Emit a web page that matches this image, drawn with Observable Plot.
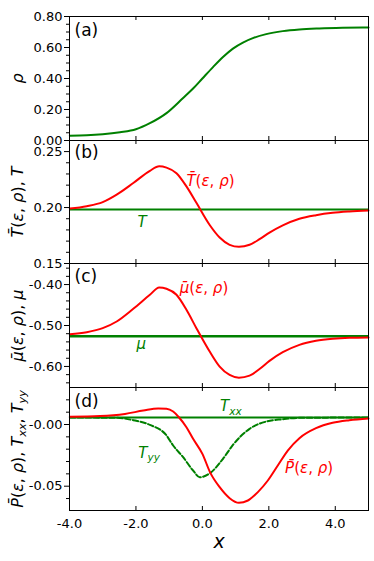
<!DOCTYPE html>
<html><head><meta charset="utf-8">
<script src="https://cdn.jsdelivr.net/npm/d3@7"></script>
<script src="https://cdn.jsdelivr.net/npm/@observablehq/plot@0.6"></script>
<style>
body{margin:0;background:#fff;}
#chart{width:374px;height:561px;}
#chart svg{display:block;overflow:visible;background:transparent;}
</style></head><body><div id="chart"></div>
<script>
const RED = "#ff0000", GREEN = "#008000";

// x ticks (shared)
const xTicks = [-4, -2, 0, 2, 4];
const xTickLabels = ["-4.0", "-2.0", "0.0", "2.0", "4.0"];
const xTitle = "x";

// (a) density
const rhoX = [-3.99, -3.48, -3.0, -2.48, -2.0, -1.58, -1.08, -0.58, -0.28, 0, 0.32, 0.62, 0.92, 1.22, 1.52, 1.92, 2.42, 2.92, 3.52, 4.22, 5];
const rhoY = [0.0314, 0.0336, 0.0401, 0.0531, 0.0726, 0.1117, 0.1767, 0.2743, 0.3350, 0.4000, 0.4737, 0.5387, 0.5930, 0.6320, 0.6602, 0.6862, 0.7057, 0.7165, 0.7230, 0.7274, 0.7295];
const aTicks = [0, 0.2, 0.4, 0.6, 0.8];
const aTickLabels = ["0.00", "0.20", "0.40", "0.60", "0.80"];
const aMinor = [0.05, 0.1, 0.15, 0.25, 0.3, 0.35, 0.45, 0.5, 0.55, 0.65, 0.7, 0.75];

// (b) temperature
const tX = [-3.99, -3.48, -3.0, -2.58, -2.08, -1.58, -1.3, -1.08, -0.78, -0.48, -0.18, 0.22, 0.52, 0.82, 1.1, 1.42, 1.72, 2.02, 2.42, 2.92, 3.42, 3.92, 4.42, 5];
const tBar = [0.1991, 0.2012, 0.2048, 0.2115, 0.2219, 0.2328, 0.2369, 0.2357, 0.2307, 0.2189, 0.2042, 0.1844, 0.1732, 0.1667, 0.1649, 0.1667, 0.1717, 0.1776, 0.1841, 0.1900, 0.1932, 0.1953, 0.1965, 0.1974];
const tConst = 0.1982;
const bTicks = [0.15, 0.20, 0.25];
const bTickLabels = ["0.15", "0.20", "0.25"];
const bMinor = [0.16, 0.17, 0.18, 0.19, 0.21, 0.22, 0.23, 0.24];

// (c) chemical potential
const muX = [-3.99, -3.48, -3.0, -2.58, -2.08, -1.58, -1.3, -1.08, -0.78, -0.48, -0.18, 0.22, 0.52, 0.82, 1.1, 1.42, 1.72, 2.02, 2.42, 2.92, 3.42, 3.92, 4.42, 5];
const muBar = [-0.5212, -0.5163, -0.5065, -0.4902, -0.4592, -0.4249, -0.4070, -0.4102, -0.4249, -0.4616, -0.5065, -0.5636, -0.6004, -0.6208, -0.6273, -0.6224, -0.6061, -0.5865, -0.5653, -0.5473, -0.5375, -0.5326, -0.5302, -0.5294];
const muConst = -0.5261;
const cTicks = [-0.6, -0.5, -0.4];
const cTickLabels = ["-0.60", "-0.50", "-0.40"];
const cMinor = [-0.64, -0.62, -0.58, -0.56, -0.54, -0.52, -0.48, -0.46, -0.44, -0.42, -0.38, -0.36];

// (d) pressure / stresses
const pX = [-3.99, -3.08, -2.33, -1.78, -1.33, -1.08, -0.88, -0.7, -0.48, -0.28, 0, 0.24, 0.52, 0.82, 1.1, 1.37, 1.67, 1.97, 2.27, 2.57, 2.92, 3.42, 3.92, 4.42, 5];
const pBar = [0.0062, 0.0068, 0.0086, 0.0113, 0.0130, 0.0127, 0.0105, 0.0057, -0.0022, -0.0116, -0.0238, -0.0392, -0.0508, -0.0597, -0.0635, -0.0616, -0.0548, -0.0454, -0.0332, -0.0211, -0.0111, -0.0030, 0.0014, 0.0035, 0.0049];
const tyyX = [-3.99, -2.58, -2.08, -1.58, -1.08, -0.88, -0.58, -0.28, -0.08, 0.24, 0.62, 0.92, 1.42, 1.92, 2.42, 2.92, 5];
const tyy = [0.0057, 0.0054, 0.0035, -0.0003, -0.0089, -0.0170, -0.0265, -0.0373, -0.0427, -0.0392, -0.0278, -0.0165, -0.0035, 0.0024, 0.0043, 0.0054, 0.0057];
const txxConst = 0.0057;
const dTicks = [-0.05, 0];
const dTickLabels = ["-0.05", "-0.00"];
const dMinor = [-0.06, -0.04, -0.03, -0.02, -0.01, 0.01, 0.02];

// axis titles, panel tags, curve labels
const yTitles = ["$ρ", "$T̄(ε, ρ), T", "$μ̄(ε, ρ), μ", "$P̄(ε, ρ), T_{xx}, T_{yy}"];
const tags = ["(a)", "(b)", "(c)", "(d)"];
const bLabels = [{t: "$T̄(ε, ρ)", x: -0.48, y: 0.2235, c: RED}, {t: "$T", x: -1.95, y: 0.1865, c: GREEN}];
const cLabels = [{t: "$μ̄(ε, ρ)", x: -0.68, y: -0.4082, c: RED}, {t: "$μ", x: -1.98, y: -0.5465, c: GREEN}];
const dLabels = [{t: "$T_{xx}", x: 0.53, y: 0.0146, c: GREEN}, {t: "$T_{yy}", x: -1.93, y: -0.0234, c: GREEN}, {t: "$P̄(ε, ρ)", x: 2.49, y: -0.0358, c: RED}];

const zip = (xs, ys) => xs.map((x, i) => ({x, y: ys[i]}));

function panel({H, mt, mb, domain, ticks, tickLabels, minor, curves, labels, tag, tagDy, ytitle, ytitleSize, last}) {
  const plotH = H - mt - mb;
  const lm = new Map(ticks.map((d, i) => [d, tickLabels[i]]));
  const xm = new Map(xTicks.map((d, i) => [d, xTickLabels[i]]));
  const marks = [
    ...curves,
    Plot.axisY(ticks, {tickSize: 5, tickPadding: 2, tickFormat: d => lm.get(d), fontSize: 13, label: null, stroke: "black", fill: "black"}),
    Plot.axisY(minor, {tickSize: 3, fill: "none", stroke: "black", label: null}),
    Plot.tickX(xTicks, {x: d => d, insetTop: plotH - 4, stroke: "black"}),
    Plot.tickX(xTicks, {x: d => d, insetBottom: plotH - 4, stroke: "black"}),
    Plot.text([tag], {text: d => d, frameAnchor: "top-left", dx: 5, dy: tagDy, textAnchor: "start", lineAnchor: "middle", fontSize: 17, fill: "black"}),
    Plot.text([ytitle], {text: d => d, frameAnchor: "left", dx: -52, rotate: -90, textAnchor: "middle", lineAnchor: "middle", fontSize: ytitleSize || 16, fill: "black"}),
    Plot.text(labels || [], {x: "x", y: "y", text: "t", fill: "c", textAnchor: "start", lineAnchor: "middle", fontSize: 15}),
    Plot.frame({stroke: "black", strokeWidth: 1})
  ];
  if (last) {
    marks.push(Plot.axisX(xTicks, {tickSize: 0, tickPadding: 8, tickFormat: d => xm.get(d), fontSize: 13, label: null, fill: "black"}));
    marks.push(Plot.text([xTitle], {text: d => d, frameAnchor: "bottom", dy: 31, textAnchor: "middle", lineAnchor: "middle", fontSize: 19, fontStyle: "italic", fill: "black"}));
  }
  return Plot.plot({
    width: 374, height: H,
    marginLeft: 69, marginRight: 6, marginTop: mt, marginBottom: mb,
    x: {domain: [-4, 5], ...(last ? {} : {axis: null})},
    y: {domain},
    color: {type: "identity"},
    style: {fontFamily: "'DejaVu Sans', sans-serif", fontSize: "13px", overflow: "visible", background: "transparent", color: "black"},
    marks
  });
}

const lineOpts = {x: "x", y: "y", strokeWidth: 2, curve: "monotone-x"};

const panels = [
  panel({H: 140, mt: 16, mb: 0, domain: [0, 0.8], ticks: aTicks, tickLabels: aTickLabels, minor: aMinor,
    curves: [Plot.line(zip(rhoX, rhoY), {...lineOpts, stroke: GREEN})], labels: [], tag: tags[0], tagDy: 14, ytitle: yTitles[0]}),
  panel({H: 123, mt: 0, mb: 0, domain: [0.15, 0.2599], ticks: bTicks, tickLabels: bTickLabels, minor: bMinor,
    curves: [Plot.ruleY([tConst], {stroke: GREEN, strokeWidth: 2}), Plot.line(zip(tX, tBar), {...lineOpts, stroke: RED})],
    labels: bLabels, tag: tags[1], tagDy: 12, ytitle: yTitles[1]}),
  panel({H: 124, mt: 0, mb: 0, domain: [-0.6514, -0.3486], ticks: cTicks, tickLabels: cTickLabels, minor: cMinor,
    curves: [Plot.ruleY([muConst], {stroke: GREEN, strokeWidth: 2.5}), Plot.line(zip(muX, muBar), {...lineOpts, stroke: RED})],
    labels: cLabels, tag: tags[2], tagDy: 13, ytitle: yTitles[2]}),
  panel({H: 174, mt: 0, mb: 51, domain: [-0.0697, 0.0300], ticks: dTicks, tickLabels: dTickLabels, minor: dMinor,
    curves: [Plot.ruleY([txxConst], {stroke: GREEN, strokeWidth: 2}),
             Plot.line(zip(tyyX, tyy), {...lineOpts, stroke: GREEN, strokeDasharray: "5.5,2.4"}),
             Plot.line(zip(pX, pBar), {...lineOpts, stroke: RED})],
    labels: dLabels, tag: tags[3], tagDy: 14.5, ytitle: yTitles[3], ytitleSize: 16, last: true})
];

const root = document.getElementById("chart");
panels.forEach(p => root.appendChild(p));

function richify(scope) {
  const NS = "http://www.w3.org/2000/svg";
  const isL = c => /[\p{L}\p{M}]/u.test(c);
  scope.querySelectorAll("text").forEach(t => {
    const s = t.textContent;
    if (!s.startsWith("$")) return;
    const fs = parseFloat(getComputedStyle(t).fontSize) || 15;
    const str = s.slice(1);
    while (t.firstChild) t.removeChild(t.firstChild);
    let pending = 0;
    const add = (txt, italic, sub) => {
      const sp = document.createElementNS(NS, "tspan");
      sp.textContent = txt;
      sp.setAttribute("font-style", italic ? "italic" : "normal");
      if (sub) {
        sp.setAttribute("font-size", (fs * 0.7).toFixed(2));
        sp.setAttribute("dy", (0.22 * fs + pending).toFixed(2));
        pending = -0.22 * fs;
      } else if (pending) {
        sp.setAttribute("dy", pending.toFixed(2));
        pending = 0;
      }
      t.appendChild(sp);
    };
    let i = 0;
    while (i < str.length) {
      if (str.startsWith("_{", i)) {
        const j = str.indexOf("}", i);
        add(str.slice(i + 2, j), true, true);
        i = j + 1;
        continue;
      }
      const k = isL(str[i]);
      let j = i;
      while (j < str.length && !str.startsWith("_{", j) && isL(str[j]) === k) j++;
      add(str.slice(i, j), k, false);
      i = j;
    }
  });
}
richify(root);
</script>
</body></html>
